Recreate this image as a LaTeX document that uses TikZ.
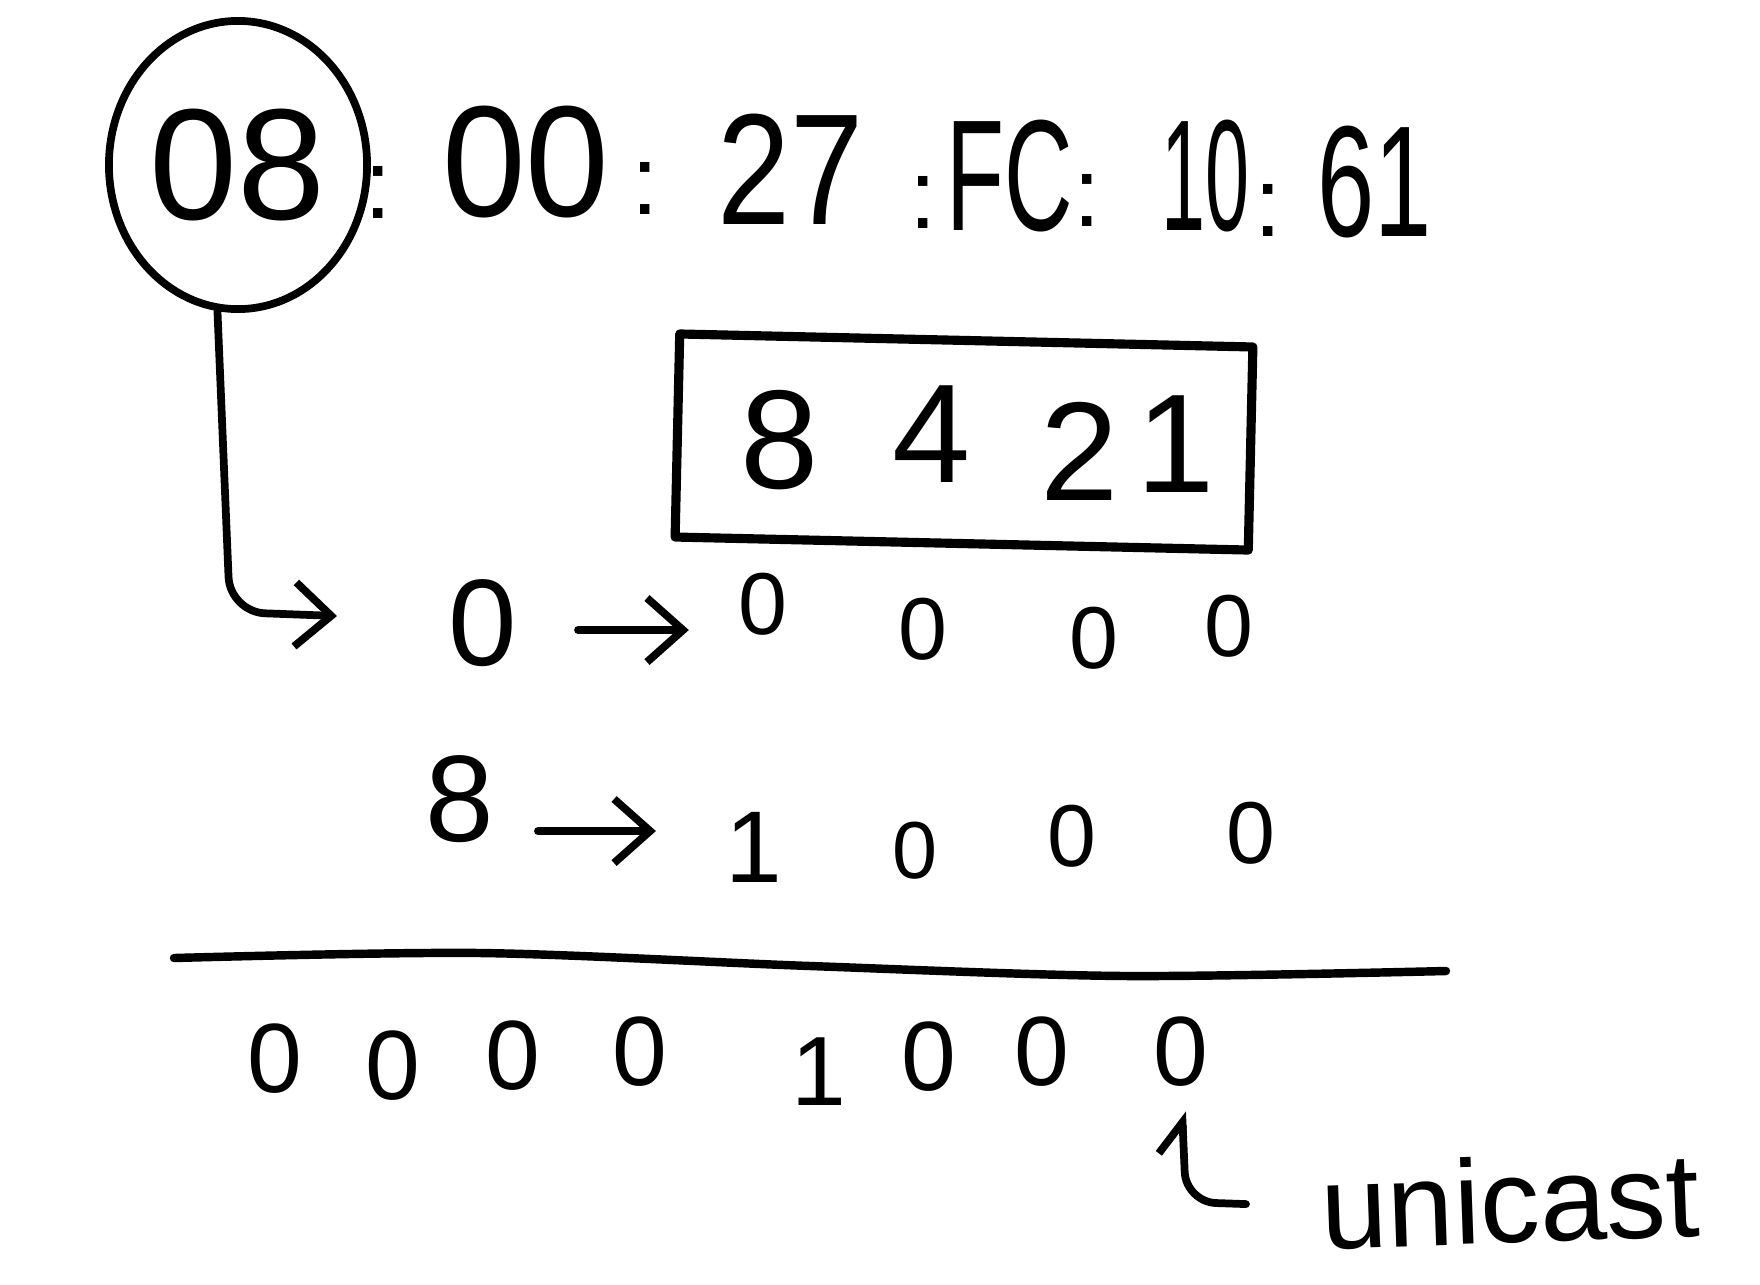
\documentclass[tikz,border=0pt]{standalone}
\usepackage{fontspec}
\usepackage{graphicx}
\setmainfont{Liberation Sans}
\usetikzlibrary{arrows.meta,shapes.geometric,calc}
\begin{document}
\begin{tikzpicture}[x=0.01cm,y=-0.01cm,
  ink/.style={draw=black, line width=2.2pt, line cap=round, line join=round},
  conn/.style={ink, -{Straight Barb[length=3.6mm,width=6.4mm,line width=2.2pt]}},
  smallconn/.style={ink, -{Straight Barb[harpoon,length=3mm,width=5mm,line width=2.2pt]}},
  dig/.style={inner sep=0pt, font=\fontsize{#1}{#1}\selectfont},
  topd/.style={inner sep=0pt, anchor=base, font=\fontsize{45}{50}\selectfont},
  colon/.style={inner sep=0pt, anchor=base, font=\fontsize{28}{30}\selectfont},
  boxd/.style={inner sep=0pt, font=\fontsize{40}{44}\selectfont}
]
\useasboundingbox (0,0) rectangle (1760,1284);
\fill[white] (0,0) rectangle (1760,1284);

% MAC address
\node[ink, ellipse, minimum width=2.58cm, minimum height=2.88cm, inner sep=0pt,
      font=\fontsize{45}{50}\selectfont] (c08) at (238,165) {08};
\node[colon] (tc1) at (378,218) {:};
\node[topd] (t00) at (526,216) {\scalebox{0.95}[1]{00}};
\node[colon] (tc2) at (645,214) {:};
\node[topd] (t27) at (791,224) {\scalebox{0.83}[1]{27}};
\node[colon] (tc3) at (923,228) {:};
\node[topd] (tFC) at (1010,230) {\scalebox{0.6}[1]{FC}};
\node[colon] (tc4) at (1087,226) {:};
\node[topd] (t10) at (1205,230) {\scalebox{0.5}[1]{10}};
\node[colon] (tc5) at (1268,236) {:};
\node[topd] (t61) at (1375,236) {\scalebox{0.65}[1]{61}};

% weight box
\node[ink, line width=2.6pt, rotate=-1.3, minimum width=5.73cm, minimum height=2.03cm] (box) at (964,442) {};
\node[boxd] (bx8) at (780,440) {8};
\node[boxd] (bx4) at (932,434) {4};
\node[boxd] (bx2) at (1080,451) {2};
\node[boxd] (bx1) at (1176,444) {1};

% connector from circled 08
\coordinate (a0) at (337,616);
\draw[conn, rounded corners=0.35cm] (c08.262) -- (230,612) -- (a0);

% row 1
\node[dig=35] (r1a) at (483,623) {0};
\node[dig=25] (r1b) at (763,604) {0};
\node[dig=25] (r1c) at (923,629) {0};
\node[dig=25] (r1d) at (1094,638) {0};
\node[dig=25] (r1e) at (1229,626) {0};
\draw[conn, shorten <=0.6cm, shorten >=0.49cm]
  ([yshift=-0.07cm]r1a.east) -- ([yshift=-0.07cm]r1a.east -| r1b.west);

% row 2
\node[dig=35] (r2a) at (460,799) {8};
\node[dig=29] (r2b) at (754,847) {1};
\node[dig=23] (r2c) at (915,851) {0};
\node[dig=25] (r2d) at (1072,836) {0};
\node[dig=25] (r2e) at (1251,833) {0};
\draw[conn, shorten <=0.43cm, shorten >=0.69cm]
  ([yshift=-0.32cm]r2a.east) -- ([yshift=-0.32cm]r2a.east -| r2b.west);

% rule
\draw[ink, line width=2.4pt] plot[smooth] coordinates {(174,958) (480,953) (810,966) (1125,976) (1446,971)};

% result row
\node[dig=28] (b1) at (275,1059) {0};
\node[dig=28] (b2) at (393,1066) {0};
\node[dig=28] (b3) at (513,1056) {0};
\node[dig=28] (b4) at (640,1052) {0};
\node[dig=28] (b5) at (819,1072) {1};
\node[dig=28] (b6) at (929,1057) {0};
\node[dig=28] (b7) at (1042,1052) {0};
\node[dig=28] (b8) at (1181,1052) {0};

% unicast label
\node[inner sep=0pt, rotate=2, font=\fontsize{34}{38}\selectfont] (uni) at (1510,1200) {unicast};
\draw[smallconn, rounded corners=0.3cm, shorten <=0.74cm, shorten >=0.24cm]
  (uni.west) -- (1186,1202) -- (b8.south);
\end{tikzpicture}
\end{document}
